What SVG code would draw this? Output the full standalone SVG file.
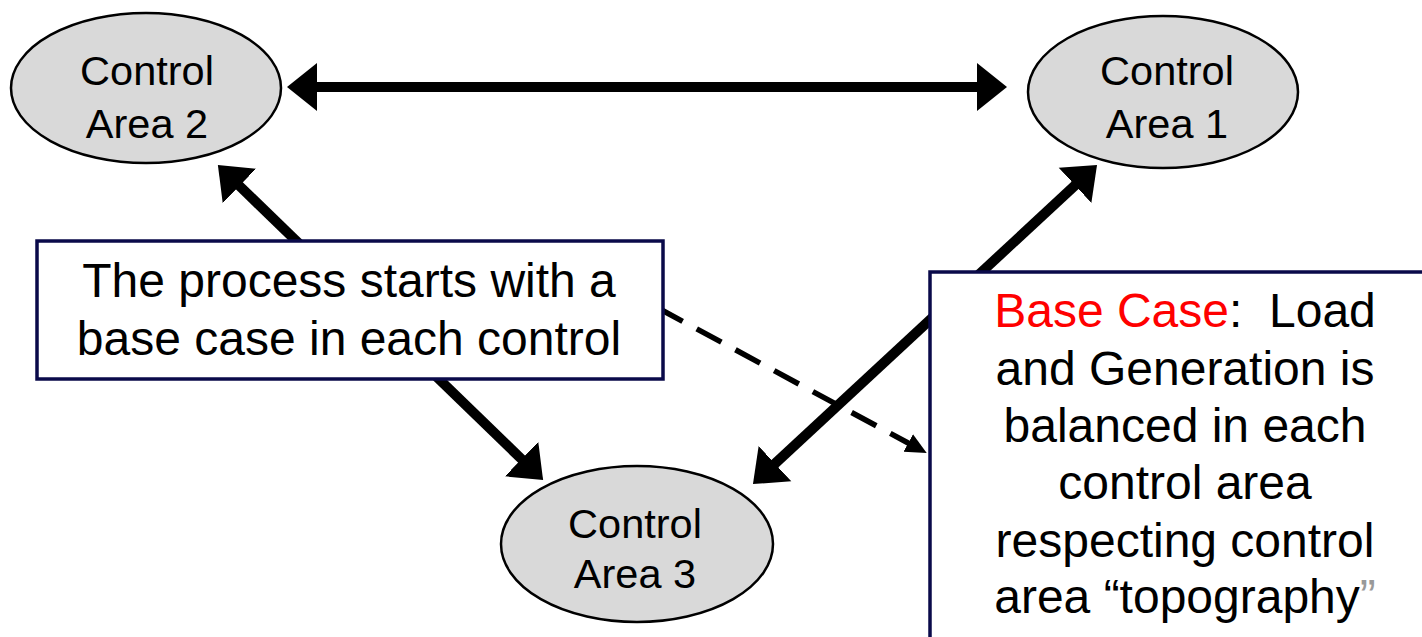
<svg xmlns="http://www.w3.org/2000/svg" width="1422" height="637" viewBox="0 0 1422 637">
<style>
.ell{fill:#d9d9d9;stroke:#000;stroke-width:2.5}
.t{font-family:"Liberation Sans",Arial,sans-serif;fill:#000;text-anchor:middle}
.big{font-size:41.5px}
.box{fill:#fff;stroke:#0a0a4a;stroke-width:3.5}
.bt{font-size:48px}
.arr{stroke:#000;stroke-width:10;fill:none;marker-start:url(#ah);marker-end:url(#ah)}
.dash{stroke:#000;stroke-width:5.5;fill:none;stroke-dasharray:28 16;marker-end:url(#dh)}
</style>
<defs>
<marker id="ah" markerUnits="userSpaceOnUse" markerWidth="32" markerHeight="50" viewBox="0 0 32 50" refX="2" refY="25" orient="auto-start-reverse">
<path d="M0,1 L30,25 L0,49 z" fill="#000"/>
</marker>
<marker id="dh" markerUnits="userSpaceOnUse" markerWidth="23" markerHeight="22" viewBox="0 0 23 22" refX="2" refY="11" orient="auto">
<path d="M0,1 L21,11 L0,21 z" fill="#000"/>
</marker>
</defs>
<g id="connectors">
<line class="arr" x1="315" y1="87" x2="979" y2="87"/>
<line class="arr" x1="238" y1="184.5" x2="523" y2="460.5"/>
<line class="arr" x1="1076.5" y1="184" x2="773.5" y2="465"/>
<line class="dash" x1="658" y1="308" x2="910" y2="444"/>
</g>
<g id="area2">
<ellipse class="ell" cx="146" cy="88" rx="135" ry="75"/>
<text class="t big" x="147" y="85">Control</text>
<text class="t big" x="147" y="138">Area 2</text>
</g>
<g id="area1">
<ellipse class="ell" cx="1163" cy="92" rx="135" ry="76"/>
<text class="t big" x="1167" y="85">Control</text>
<text class="t big" x="1167" y="138">Area 1</text>
</g>
<g id="area3">
<ellipse class="ell" cx="637" cy="544" rx="136" ry="78"/>
<text class="t big" x="635" y="538">Control</text>
<text class="t big" x="635" y="588">Area 3</text>
</g>
<g id="note1">
<rect class="box" x="37" y="241" width="626" height="138"/>
<text class="t bt" x="349" y="297">The process starts with a</text>
<text class="t bt" x="349" y="355">base case in each control</text>
</g>
<g id="note2">
<rect class="box" x="930" y="272" width="520" height="400"/>
<text class="t bt" x="1185" y="327"><tspan fill="#ff0000">Base Case</tspan>:&#160; Load</text>
<text class="t bt" x="1185" y="385">and Generation is</text>
<text class="t bt" x="1185" y="442">balanced in each</text>
<text class="t bt" x="1185" y="499">control area</text>
<text class="t bt" x="1185" y="557">respecting control</text>
<text class="t bt" x="1185" y="613">area “topography<tspan fill="#999999">”</tspan></text>
</g>
</svg>
